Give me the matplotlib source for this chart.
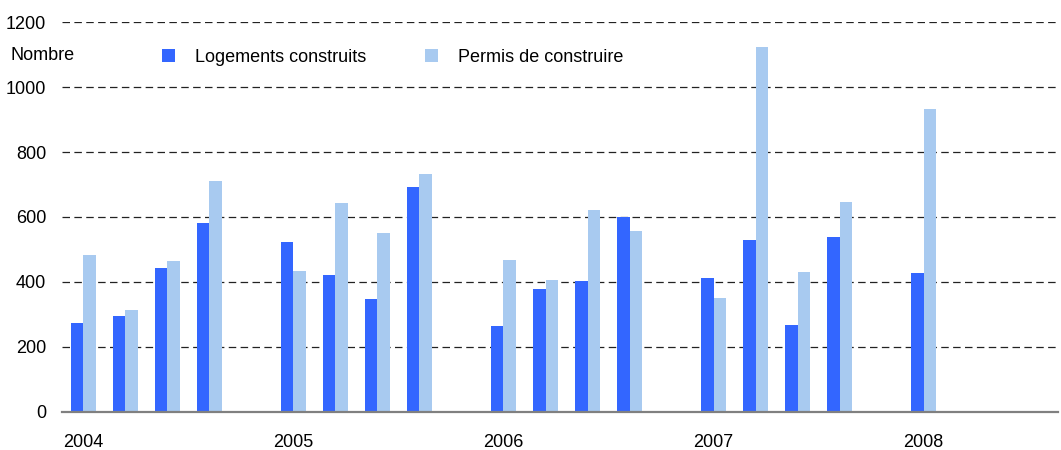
import matplotlib
matplotlib.use("Agg")
import matplotlib.pyplot as plt
import numpy as np

years = ["2004", "2005", "2006", "2007", "2008"]
logements = [
    [273, 295, 443, 581],
    [523, 421, 347, 692],
    [264, 378, 403, 600],
    [412, 529, 267, 538],
    [427],
]
permis = [
    [483, 313, 464, 711],
    [434, 643, 551, 733],
    [467, 406, 622, 557],
    [350, 1124, 430, 646],
    [933],
]
yticks = [0, 200, 400, 600, 800, 1000, 1200]

plt.rcParams["font.family"] = ["Liberation Sans", "DejaVu Sans"]

W, H = 1061, 450
fig = plt.figure(figsize=(W / 100, H / 100), dpi=100)
ax = fig.add_axes([62 / W, (H - 411.7) / H, (1058 - 62) / W, (411.7 - 22.3) / H])

# 5 slots per year: 4 quarters + an empty gap
pos, val_l, val_p = [], [], []
for i, (lg, pm) in enumerate(zip(logements, permis)):
    for q in range(len(lg)):
        pos.append(i * 5 + q)
        val_l.append(lg[q])
        val_p.append(pm[q])
pos = np.array(pos)

w = 0.3
ax.bar(pos - w / 2, val_l, width=w, color="#3366ff", label="Logements construits", zorder=3)
ax.bar(pos + w / 2, val_p, width=w, color="#a8caf0", label="Permis de construire", zorder=3)

ax.set_xlim(-0.51, 23.2)
ax.set_ylim(0, 1200)
ax.set_yticks(yticks)
ax.set_xticks([i * 5 for i in range(len(years))])
ax.set_xticklabels(years)
ax.tick_params(axis="y", length=0, pad=11.5, labelsize=13)
ax.tick_params(axis="x", length=0, pad=16, labelsize=13)

for y in yticks[1:]:
    ax.axhline(y, color="#222222", lw=0.9, ls=(0, (6, 3.5)), zorder=1)

for s in ["top", "right", "left"]:
    ax.spines[s].set_visible(False)
ax.spines["bottom"].set_color("#808080")
ax.spines["bottom"].set_linewidth(1.6)
ax.spines["bottom"].set_zorder(4)

fig.text(10 / W, 1 - 55 / H, "Nombre", fontsize=13, va="center", ha="left")

fig.legend(loc="center left", bbox_to_anchor=(162 / W, 1 - 57.5 / H), ncol=2,
           frameon=False, fontsize=13, handlelength=0.72, handleheight=0.72,
           handletextpad=1.1, columnspacing=3.27, borderpad=0, borderaxespad=0)

fig.savefig("out.png", dpi=100)
